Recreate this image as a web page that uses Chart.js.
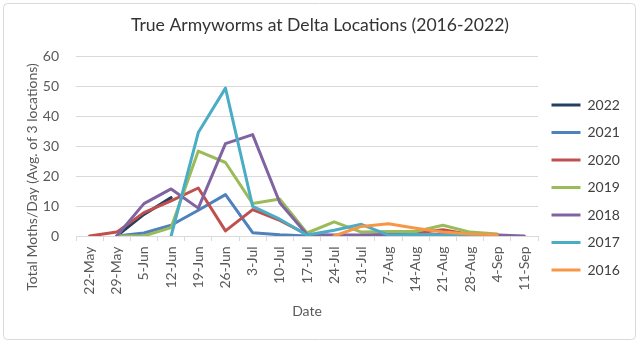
<!DOCTYPE html>
<html>
<head>
<meta charset="utf-8">
<script src="https://cdn.jsdelivr.net/npm/chart.js@4.4.1/dist/chart.umd.min.js"></script>
<style>
  html, body { margin: 0; padding: 0; background: #ffffff; }
  #wrap { position: relative; width: 640px; height: 344px; }
</style>
</head>
<body>
<div id="wrap"><canvas id="c"></canvas></div>
<script>
const categories = ['22-May','29-May','5-Jun','12-Jun','19-Jun','26-Jun','3-Jul','10-Jul','17-Jul','24-Jul','31-Jul','7-Aug','14-Aug','21-Aug','28-Aug','4-Sep','11-Sep'];
const seriesNames = ['2022','2021','2020','2019','2018','2017','2016'];
const v2022 = [null, 0, 7.2, 12.8, null, null, null, null, null, null, null, null, null, null, null, null, null];
const v2021 = [null, 0, 1, 3.6, 8.6, 13.8, 1.1, 0.4, 0, 0, 0, 0, 0, 0, 0, null, null];
const v2020 = [0, 1.3, 7.8, 11.7, 16, 1.7, 8.8, 5.2, 0.5, 0, 0, 0.5, 1, 2.1, 0.5, null, null];
const v2019 = [null, 0, 0, 2.8, 28.3, 24.5, 10.8, 12.3, 1, 4.7, 1.3, 1.5, 1.5, 3.6, 1.3, 0.7, null];
const v2018 = [null, 0, 10.8, 15.7, 9.3, 30.8, 33.8, 11.1, 0.5, 0.3, 0.3, 0.5, 0.3, 0.5, 0.5, 0.3, 0];
const v2017 = [null, null, null, 0, 34.5, 49.3, 9.9, 5.6, 0.3, 1.9, 3.9, 0.3, 0.5, 0.3, 0.5, 0.5, null];
const v2016 = [null, null, null, null, null, null, null, null, null, 0, 3.2, 4.1, 2.6, 1.3, 0.7, 0.4, null];
const seriesValues = [v2022, v2021, v2020, v2019, v2018, v2017, v2016];
const seriesColors = ['#243F60', '#4F81BD', '#C0504D', '#9BBB59', '#8064A2', '#4BACC6', '#F79646'];

const FONT = 'Lato';
const chartTitle = 'True Armyworms at Delta Locations (2016-2022)';
const xTitle = 'Date';
const yTitle = 'Total Moths/Day (Avg. of 3 locations)';

const datasets = seriesNames.map((name, i) => ({
  label: name,
  data: seriesValues[i],
  borderColor: seriesColors[i],
  backgroundColor: seriesColors[i],
  borderWidth: 3,
  pointRadius: 0,
  pointHoverRadius: 0,
  tension: 0,
  fill: false,
  borderJoinStyle: 'round',
  borderCapStyle: 'round',
  order: seriesNames.length - 1 - i
}));

const framePlugin = {
  id: 'frame',
  beforeDraw(chart) {
    const ctx = chart.ctx;
    ctx.save();
    ctx.fillStyle = '#ffffff';
    ctx.fillRect(0, 0, chart.width, chart.height);
    ctx.strokeStyle = '#d9d9d9';
    ctx.lineWidth = 1;
    ctx.beginPath();
    if (ctx.roundRect) ctx.roundRect(3.5, 3.5, 632, 336, 4); else ctx.rect(3.5, 3.5, 632, 336);
    ctx.stroke();
    ctx.restore();
  },
  afterDraw(chart) {
    // vertical axis title, centred like the original (it extends below the plot area)
    const ctx = chart.ctx;
    ctx.save();
    ctx.translate(32, 177);
    ctx.rotate(-Math.PI / 2);
    ctx.font = '14px ' + FONT;
    ctx.fillStyle = '#595959';
    ctx.textAlign = 'center';
    ctx.textBaseline = 'middle';
    ctx.fillText(yTitle, 0, 0);
    ctx.restore();
  }
};

new Chart(document.getElementById('c'), {
  type: 'line',
  data: { labels: categories, datasets },
  plugins: [framePlugin],
  options: {
    responsive: true,
    maintainAspectRatio: false,
    animation: false,
    events: [],
    layout: { padding: 0 },
    plugins: {
      tooltip: { enabled: false },
      title: {
        display: true,
        text: chartTitle,
        color: '#333333',
        font: { family: FONT, size: 17.6, weight: 'normal', lineHeight: 1.2 },
        padding: { top: 14.5, bottom: 20.4 }
      },
      legend: {
        display: true,
        position: 'right',
        align: 'start',
        maxWidth: 102,
        title: { display: true, text: '', font: { size: 1, lineHeight: 1 }, padding: { top: 83.5, bottom: 0 } },
        labels: {
          boxWidth: 29,
          boxHeight: 3,
          padding: 13.5,
          color: '#404040',
          font: { family: FONT, size: 14 },
          sort: (a, b) => a.datasetIndex - b.datasetIndex,
          generateLabels(chart) {
            return Chart.defaults.plugins.legend.labels.generateLabels(chart)
              .map(l => Object.assign(l, { lineWidth: 0, text: l.text + '      ' }));
          }
        }
      }
    },
    scales: {
      x: {
        type: 'category',
        offset: true,
        grid: { offset: true, drawOnChartArea: false, drawTicks: true, tickLength: 5, color: '#d9d9d9' },
        border: { display: true, color: '#d9d9d9' },
        ticks: { autoSkip: false, minRotation: 90, maxRotation: 90, padding: 5.5, color: '#595959', font: { family: FONT, size: 14 } },
        title: { display: true, text: xTitle, color: '#595959', font: { family: FONT, size: 14, lineHeight: 1.2 }, padding: { top: 0, bottom: 24.6 } },
        afterFit(scale) { scale.height = 108; }
      },
      y: {
        min: 0,
        max: 60,
        ticks: { stepSize: 10, padding: 17, color: '#595959', font: { family: FONT, size: 14 } },
        grid: { color: '#d9d9d9', drawTicks: false },
        border: { display: false },
        title: { display: false },
        afterFit(scale) { scale.width = 76; }
      }
    }
  }
});
</script>
</body>
</html>
